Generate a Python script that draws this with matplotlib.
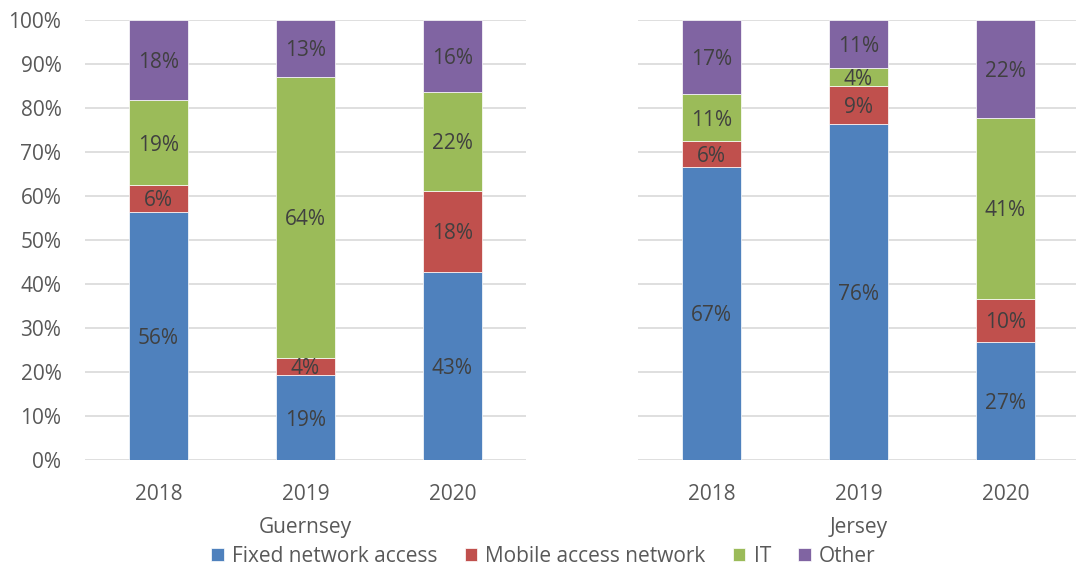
import numpy as np
import matplotlib
matplotlib.use("Agg")
import matplotlib.pyplot as plt
from matplotlib.ticker import PercentFormatter

plt.rcParams['font.family'] = ['Open Sans', 'DejaVu Sans']

# --- data ---
years = ["2018", "2019", "2020"]
regions = ["Guernsey", "Jersey"]
series = ["Fixed network access", "Mobile access network", "IT", "Other"]
colors = ["#4F81BD", "#C0504D", "#9BBB59", "#8064A2"]

guernsey_fixed = [56.4, 19.3, 42.8]
guernsey_mobile = [6.1, 3.9, 18.4]
guernsey_it = [19.3, 63.9, 22.4]
guernsey_other = [18.2, 12.9, 16.4]

jersey_fixed = [66.6, 76.4, 26.8]
jersey_mobile = [5.9, 8.7, 9.8]
jersey_it = [10.6, 3.9, 41.2]
jersey_other = [16.9, 11.0, 22.2]

data = {
    "Guernsey": [guernsey_fixed, guernsey_mobile, guernsey_it, guernsey_other],
    "Jersey": [jersey_fixed, jersey_mobile, jersey_it, jersey_other],
}

fig = plt.figure(figsize=(10.76, 5.70), dpi=100)
ax1 = fig.add_axes([0.079, 0.193, 0.4098, 0.772])
ax2 = fig.add_axes([0.5929, 0.193, 0.4098, 0.772])

x = np.arange(len(years))
for ax, region in zip([ax1, ax2], regions):
    bottom = np.zeros(len(years))
    for vals, name, col in zip(data[region], series, colors):
        vals = np.array(vals)
        ax.bar(x, vals, width=0.4, bottom=bottom, color=col, label=name,
               edgecolor="white", linewidth=0.5, zorder=3)
        for xi, b, v in zip(x, bottom, vals):
            ax.text(xi, b + v / 2, f"{round(v):d}%", ha="center",
                    va="center_baseline", fontsize=15, color="#404040",
                    zorder=4)
        bottom += vals

    ax.set_xlim(-0.5, 2.5)
    ax.set_ylim(0, 100)
    ax.set_yticks(np.arange(0, 101, 10))
    ax.yaxis.set_major_formatter(PercentFormatter(decimals=0))
    ax.set_xticks(x)
    ax.set_xticklabels(years)
    ax.grid(axis="y", color="#D9D9D9", linewidth=1.2, zorder=0)
    for s in ax.spines.values():
        s.set_visible(False)
    ax.tick_params(length=0, labelsize=15, colors="#595959")
    ax.tick_params(axis="y", pad=17)
    ax.tick_params(axis="x", pad=17)
    ax.set_xlabel(region, fontsize=15, color="#595959", labelpad=9)

ax2.tick_params(axis="y", labelleft=False)

handles, labels = ax1.get_legend_handles_labels()
fig.legend(handles, labels, loc="lower center", ncol=4, frameon=False,
           bbox_to_anchor=(0.505, -0.028), fontsize=15, handlelength=0.6,
           handleheight=0.6, handletextpad=0.4, columnspacing=1.3,
           labelcolor="#595959")

fig.savefig("out.png", dpi=100)
